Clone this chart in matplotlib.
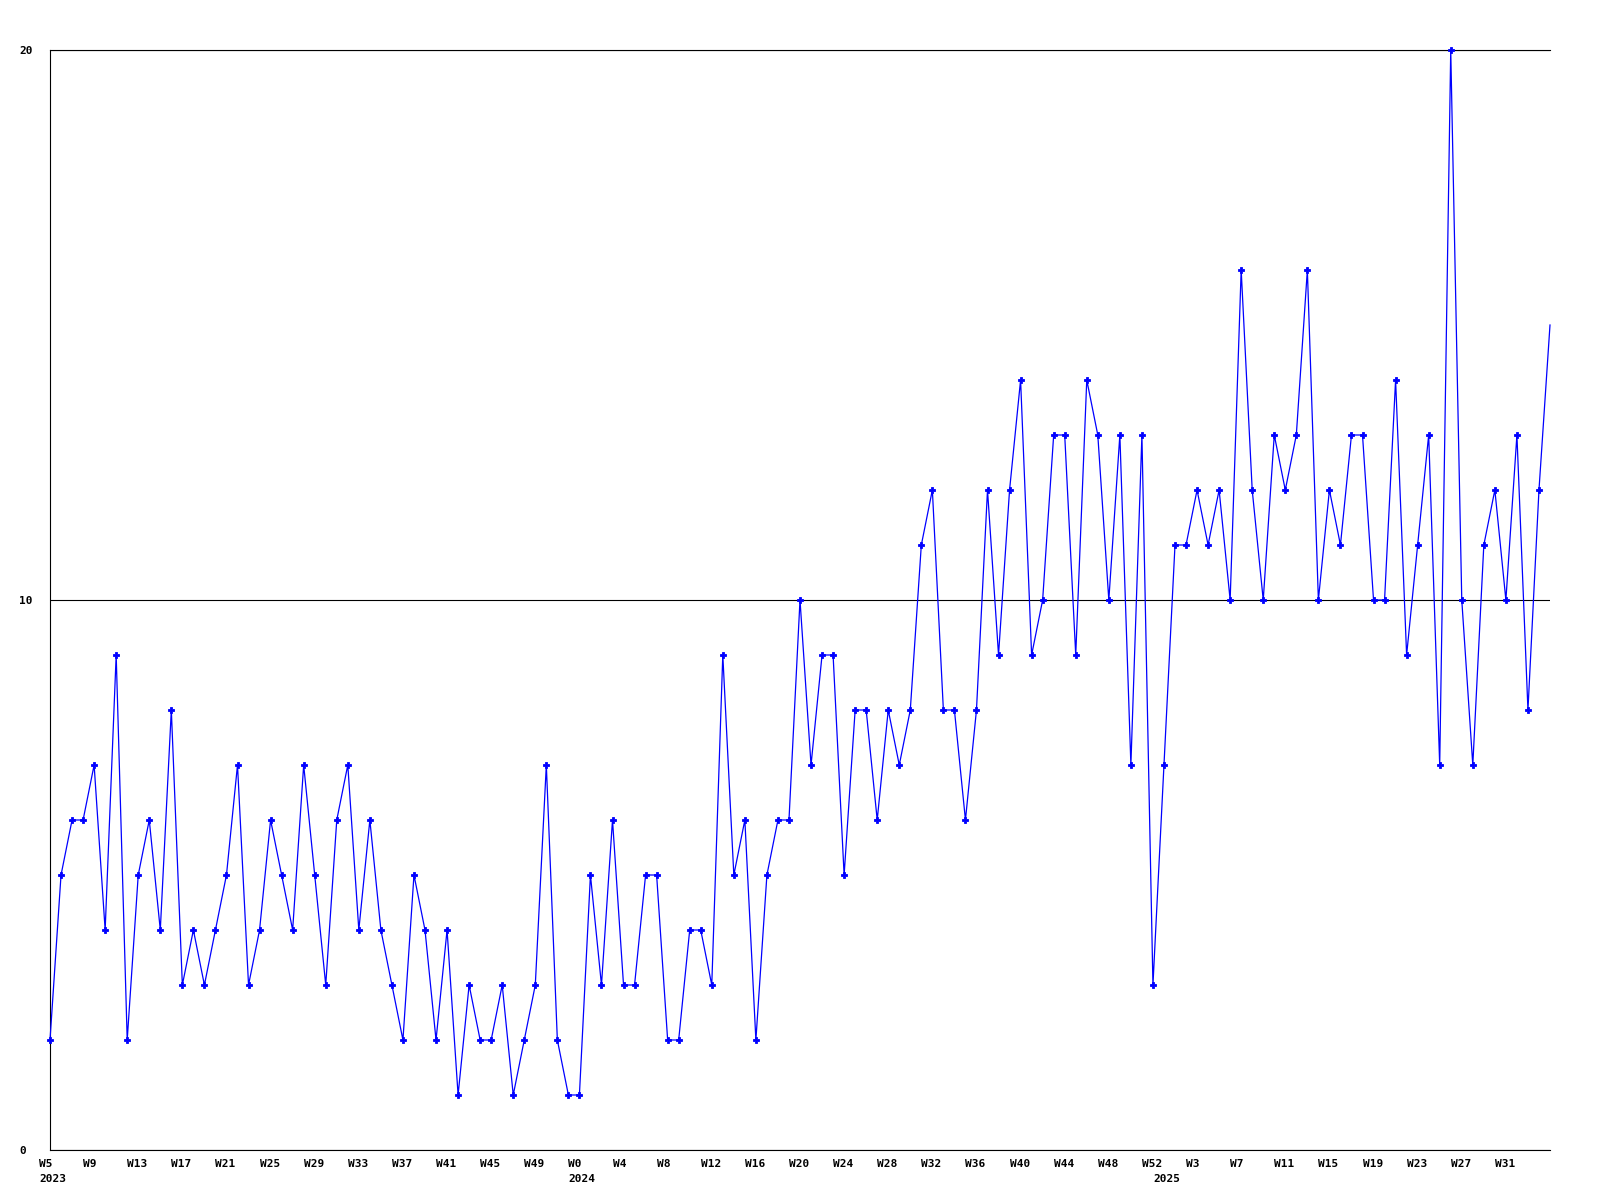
import matplotlib
matplotlib.use("Agg")
import matplotlib.pyplot as plt
import matplotlib.transforms as mtransforms

plt.rcParams["font.family"] = "DejaVu Sans Mono"
plt.rcParams["font.weight"] = "bold"
plt.rcParams["font.size"] = 8

# weekly counts, one list per year
years = [2023, 2024, 2025]
weeks_2023 = list(range(5, 53))
weeks_2024 = list(range(0, 53))
weeks_2025 = list(range(0, 36))

counts_2023 = [2, 5, 6, 6, 7, 4, 9, 2, 5, 6,
               4, 8, 3, 4, 3, 4, 5, 7, 3, 4,
               6, 5, 4, 7, 5, 3, 6, 7, 4, 6,
               4, 3, 2, 5, 4, 2, 4, 1, 3, 2,
               2, 3, 1, 2, 3, 7, 2, 1]
counts_2024 = [1, 5, 3, 6, 3, 3, 5, 5, 2, 2,
               4, 4, 3, 9, 5, 6, 2, 5, 6, 6,
               10, 7, 9, 9, 5, 8, 8, 6, 8, 7,
               8, 11, 12, 8, 8, 6, 8, 12, 9, 12,
               14, 9, 10, 13, 13, 9, 14, 13, 10, 13,
               7, 13, 3]
counts_2025 = [7, 11, 11, 12, 11, 12, 10, 16, 12, 10,
               13, 12, 13, 16, 10, 12, 11, 13, 13, 10,
               10, 14, 9, 11, 13, 7, 20, 10, 7, 11,
               12, 10, 13, 8, 12, 15]

weeks = weeks_2023 + weeks_2024 + weeks_2025
counts = counts_2023 + counts_2024 + counts_2025
year_start = [0, len(weeks_2023), len(weeks_2023) + len(weeks_2024)]
x = list(range(len(counts)))

fig = plt.figure(figsize=(16, 12), dpi=100)
ax = fig.add_axes([50 / 1600, 50 / 1200, 1500 / 1600, 1100 / 1200])

ax.plot(x, counts, color="#0000ff", lw=0.9, marker="P", ms=4.5,
        mec="#0000ff", mew=0.6,
        markevery=list(range(len(counts) - 1)), clip_on=False, zorder=3)

ax.set_xlim(0, len(counts) - 1)
ax.set_ylim(0, 20)
ax.set_yticks([0, 10, 20])
ax.grid(axis="y", color="black", lw=0.8)
ax.spines["right"].set_visible(False)
for s in ["left", "bottom", "top"]:
    ax.spines[s].set_linewidth(0.8)
ax.tick_params(length=0)
ax.tick_params(axis="y", pad=31 * 0.72)
for lab in ax.get_yticklabels():
    lab.set_horizontalalignment("left")

# week labels every 4 weeks, the last (partial) week gets none
tick_idx = x[:-1][::4]
ax.set_xticks(tick_idx)
ax.set_xticklabels([f"W{weeks[i]}" for i in tick_idx])
ax.tick_params(axis="x", pad=9 * 0.72)
shift = mtransforms.ScaledTranslation(-11 / 100, 0, fig.dpi_scale_trans)
for lab in ax.get_xticklabels():
    lab.set_horizontalalignment("left")
    lab.set_transform(lab.get_transform() + shift)

trans = mtransforms.blended_transform_factory(ax.transData, ax.transAxes)
off = mtransforms.ScaledTranslation(-11 / 100, -24 / 100, fig.dpi_scale_trans)
for yr, idx in zip(years, year_start):
    ax.text(idx, 0, str(yr), transform=trans + off, ha="left", va="top")

fig.savefig("out.png", dpi=100)
